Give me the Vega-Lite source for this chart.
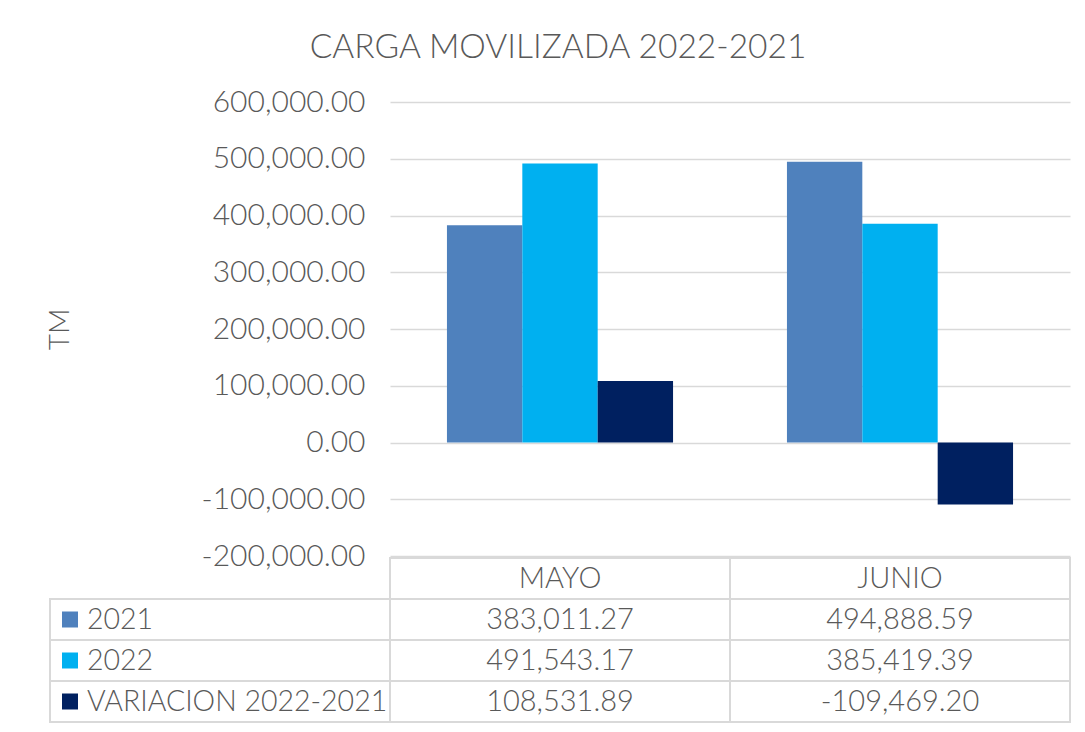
{
  "$schema": "https://vega.github.io/schema/vega-lite/v6.json",
  "background": "white",
  "padding": {"left": 46, "top": 30, "right": 15, "bottom": 5},
  "datasets": {
    "carga": [
      {"mes": "MAYO", "serie": "2021", "valor": 383011.27},
      {"mes": "MAYO", "serie": "2022", "valor": 491543.17},
      {"mes": "MAYO", "serie": "VARIACION 2022-2021", "valor": 108531.89},
      {"mes": "JUNIO", "serie": "2021", "valor": 494888.59},
      {"mes": "JUNIO", "serie": "2022", "valor": 385419.39},
      {"mes": "JUNIO", "serie": "VARIACION 2022-2021", "valor": -109469.20}
    ]
  },
  "align": "none",
  "spacing": -14,
  "resolve": {"scale": {"x": "independent", "y": "independent"}},
  "vconcat": [
    {
      "title": {"text": "CARGA MOVILIZADA 2022-2021", "font": "Lato", "fontSize": 33.5, "fontWeight": 300, "color": "#595959", "anchor": "middle", "frame": "bounds", "offset": 22},
      "width": 680,
      "height": 454,
      "data": {"name": "carga"},
      "mark": {"type": "bar"},
      "encoding": {
        "x": {"field": "mes", "type": "nominal", "sort": ["MAYO", "JUNIO"], "axis": null, "scale": {"paddingInner": 0.335, "paddingOuter": 0.1675}},
        "xOffset": {"field": "serie", "type": "nominal", "sort": ["2021", "2022", "VARIACION 2022-2021"], "scale": {"paddingInner": 0, "paddingOuter": 0}},
        "y": {"field": "valor", "type": "quantitative", "scale": {"domain": [-200000, 600000], "nice": false},
          "axis": {"values": [-200000, -100000, 0, 100000, 200000, 300000, 400000, 500000, 600000], "format": ",.2f", "grid": true, "gridColor": "#d9d9d9", "gridWidth": 1.5, "domain": false, "ticks": false, "tickSize": 0, "labelFont": "Lato", "labelFontSize": 30, "labelFontWeight": 300, "labelColor": "#595959", "labelPadding": 25, "minExtent": 300, "maxExtent": 300, "title": "TM", "titleFont": "Lato", "titleFontSize": 28, "titleFontWeight": 300, "titleColor": "#595959", "titlePadding": 16}},
        "color": {"field": "serie", "type": "nominal", "scale": {"domain": ["2021", "2022", "VARIACION 2022-2021"], "range": ["#4f81bd", "#00b0f0", "#002060"]}, "legend": null}
      }
    },
    {
      "width": 680,
      "height": 164,
      "data": {"name": "carga"},
      "layer": [
        {
          "mark": {"type": "rect", "fill": "white", "stroke": "#d9d9d9", "strokeWidth": 2},
          "encoding": {
            "x": {"field": "mes", "type": "nominal", "axis": null, "scale": {"domain": ["lbl", "MAYO", "JUNIO"], "range": [-340, 680], "paddingInner": 0, "paddingOuter": 0}},
            "y": {"field": "serie", "type": "nominal", "axis": null, "scale": {"domain": ["hdr", "2021", "2022", "VARIACION 2022-2021"], "paddingInner": 0, "paddingOuter": 0}}
          }
        },
        {
          "transform": [{"aggregate": [], "groupby": ["mes"]}],
          "mark": {"type": "rect", "fill": "white", "stroke": "#d9d9d9", "strokeWidth": 2},
          "encoding": {
            "x": {"field": "mes", "type": "nominal", "axis": null},
            "y": {"datum": "hdr", "type": "nominal", "axis": null}
          }
        },
        {
          "transform": [{"filter": "datum.mes === 'MAYO'"}],
          "mark": {"type": "rect", "fill": "white", "stroke": "#d9d9d9", "strokeWidth": 2},
          "encoding": {
            "x": {"datum": "lbl", "type": "nominal", "axis": null},
            "y": {"field": "serie", "type": "nominal", "axis": null}
          }
        },
        {
          "mark": {"type": "text", "font": "Lato", "fontSize": 29, "fontWeight": 300, "color": "#595959", "baseline": "middle"},
          "encoding": {
            "x": {"field": "mes", "type": "nominal", "axis": null},
            "y": {"field": "serie", "type": "nominal", "axis": null},
            "text": {"field": "valor", "type": "quantitative", "format": ",.2f"}
          }
        },
        {
          "transform": [{"aggregate": [], "groupby": ["mes"]}],
          "mark": {"type": "text", "font": "Lato", "fontSize": 29, "fontWeight": 300, "color": "#595959", "baseline": "middle"},
          "encoding": {
            "x": {"field": "mes", "type": "nominal", "axis": null},
            "y": {"datum": "hdr", "type": "nominal", "axis": null},
            "text": {"field": "mes", "type": "nominal"}
          }
        },
        {
          "transform": [{"filter": "datum.mes === 'MAYO'"}],
          "mark": {"type": "text", "font": "Lato", "fontSize": 28.5, "fontWeight": 300, "color": "#595959", "baseline": "middle", "align": "left", "dx": 37},
          "encoding": {
            "x": {"datum": "lbl", "type": "nominal", "axis": null, "bandPosition": 0},
            "y": {"field": "serie", "type": "nominal", "axis": null},
            "text": {"field": "serie", "type": "nominal"}
          }
        },
        {
          "transform": [{"filter": "datum.mes === 'MAYO'"}],
          "mark": {"type": "point", "shape": "square", "filled": true, "size": 256, "opacity": 1, "xOffset": 20},
          "encoding": {
            "x": {"datum": "lbl", "type": "nominal", "axis": null, "bandPosition": 0},
            "y": {"field": "serie", "type": "nominal", "axis": null},
            "color": {"field": "serie", "type": "nominal", "legend": null}
          }
        }
      ]
    }
  ],
  "config": {"view": {"stroke": null}, "locale": {"number": {"decimal": ".", "thousands": ",", "grouping": [3], "currency": ["$", ""], "minus": "-"}}}
}
